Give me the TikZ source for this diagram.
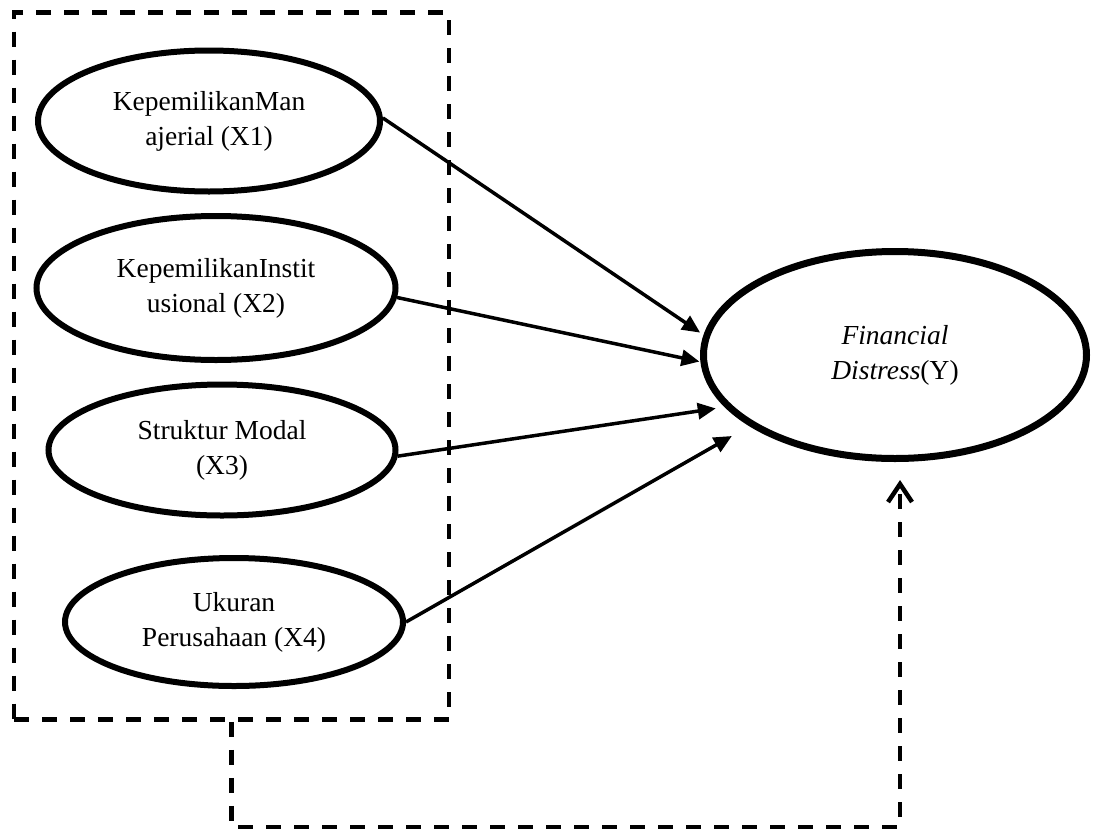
\documentclass[tikz,border=0pt]{standalone}
\usepackage{fontspec}
\setmainfont{Liberation Serif}
\usetikzlibrary{arrows.meta,shapes.geometric,calc}
\begin{document}
\begin{tikzpicture}[x=1pt,y=-1pt,
  ell/.style={draw, ellipse, line width=6pt, inner sep=0pt, align=center,
    font=\fontsize{27.5}{35}\selectfont},
  link/.style={line width=3.5pt, -{Triangle[length=18pt,width=16pt]}},
  grp/.style={draw, line width=4.5pt, dash pattern=on 15pt off 13pt, inner sep=0pt},
  fb/.style={line width=4.5pt, dash pattern=on 15pt off 13pt,
    -{Straight Barb[length=18pt,width=24pt]}}]
\useasboundingbox (0,0) rectangle (1094,830);

\node[grp, minimum width=435pt, minimum height=707pt] (box) at (231.5,366) {};

\node[ell, minimum width=342pt, minimum height=141pt] (e1) at (209,121) {KepemilikanMan\\ajerial (X1)};
\node[ell, minimum width=359pt, minimum height=144pt] (e2) at (216,288) {KepemilikanInstit\\usional (X2)};
\node[ell, minimum width=347pt, minimum height=131pt] (e3) at (222,450) {Struktur Modal\\(X3)};
\node[ell, minimum width=338pt, minimum height=128pt] (e4) at (234,622) {Ukuran\\Perusahaan (X4)};
\node[ell, line width=7pt, minimum width=383pt, minimum height=207pt] (Y) at (895,355) {\textit{Financial}\\\textit{Distress}(Y)};

\draw[link, shorten >=4pt] (e1.1) -- (Y.174.6);
\draw[link, shorten >=1pt] (e2.-3) -- (Y.182.6);
\draw[link, shorten >=9pt] (e3.-2.6) -- (Y.197.4);
\draw[link, shorten >=20pt] (e4.0) -- (Y.206.1);

\draw[fb] (box.south) |- ($(Y.south)+(5,365)$) -- ($(Y.south)+(5,18)$);
\end{tikzpicture}
\end{document}
